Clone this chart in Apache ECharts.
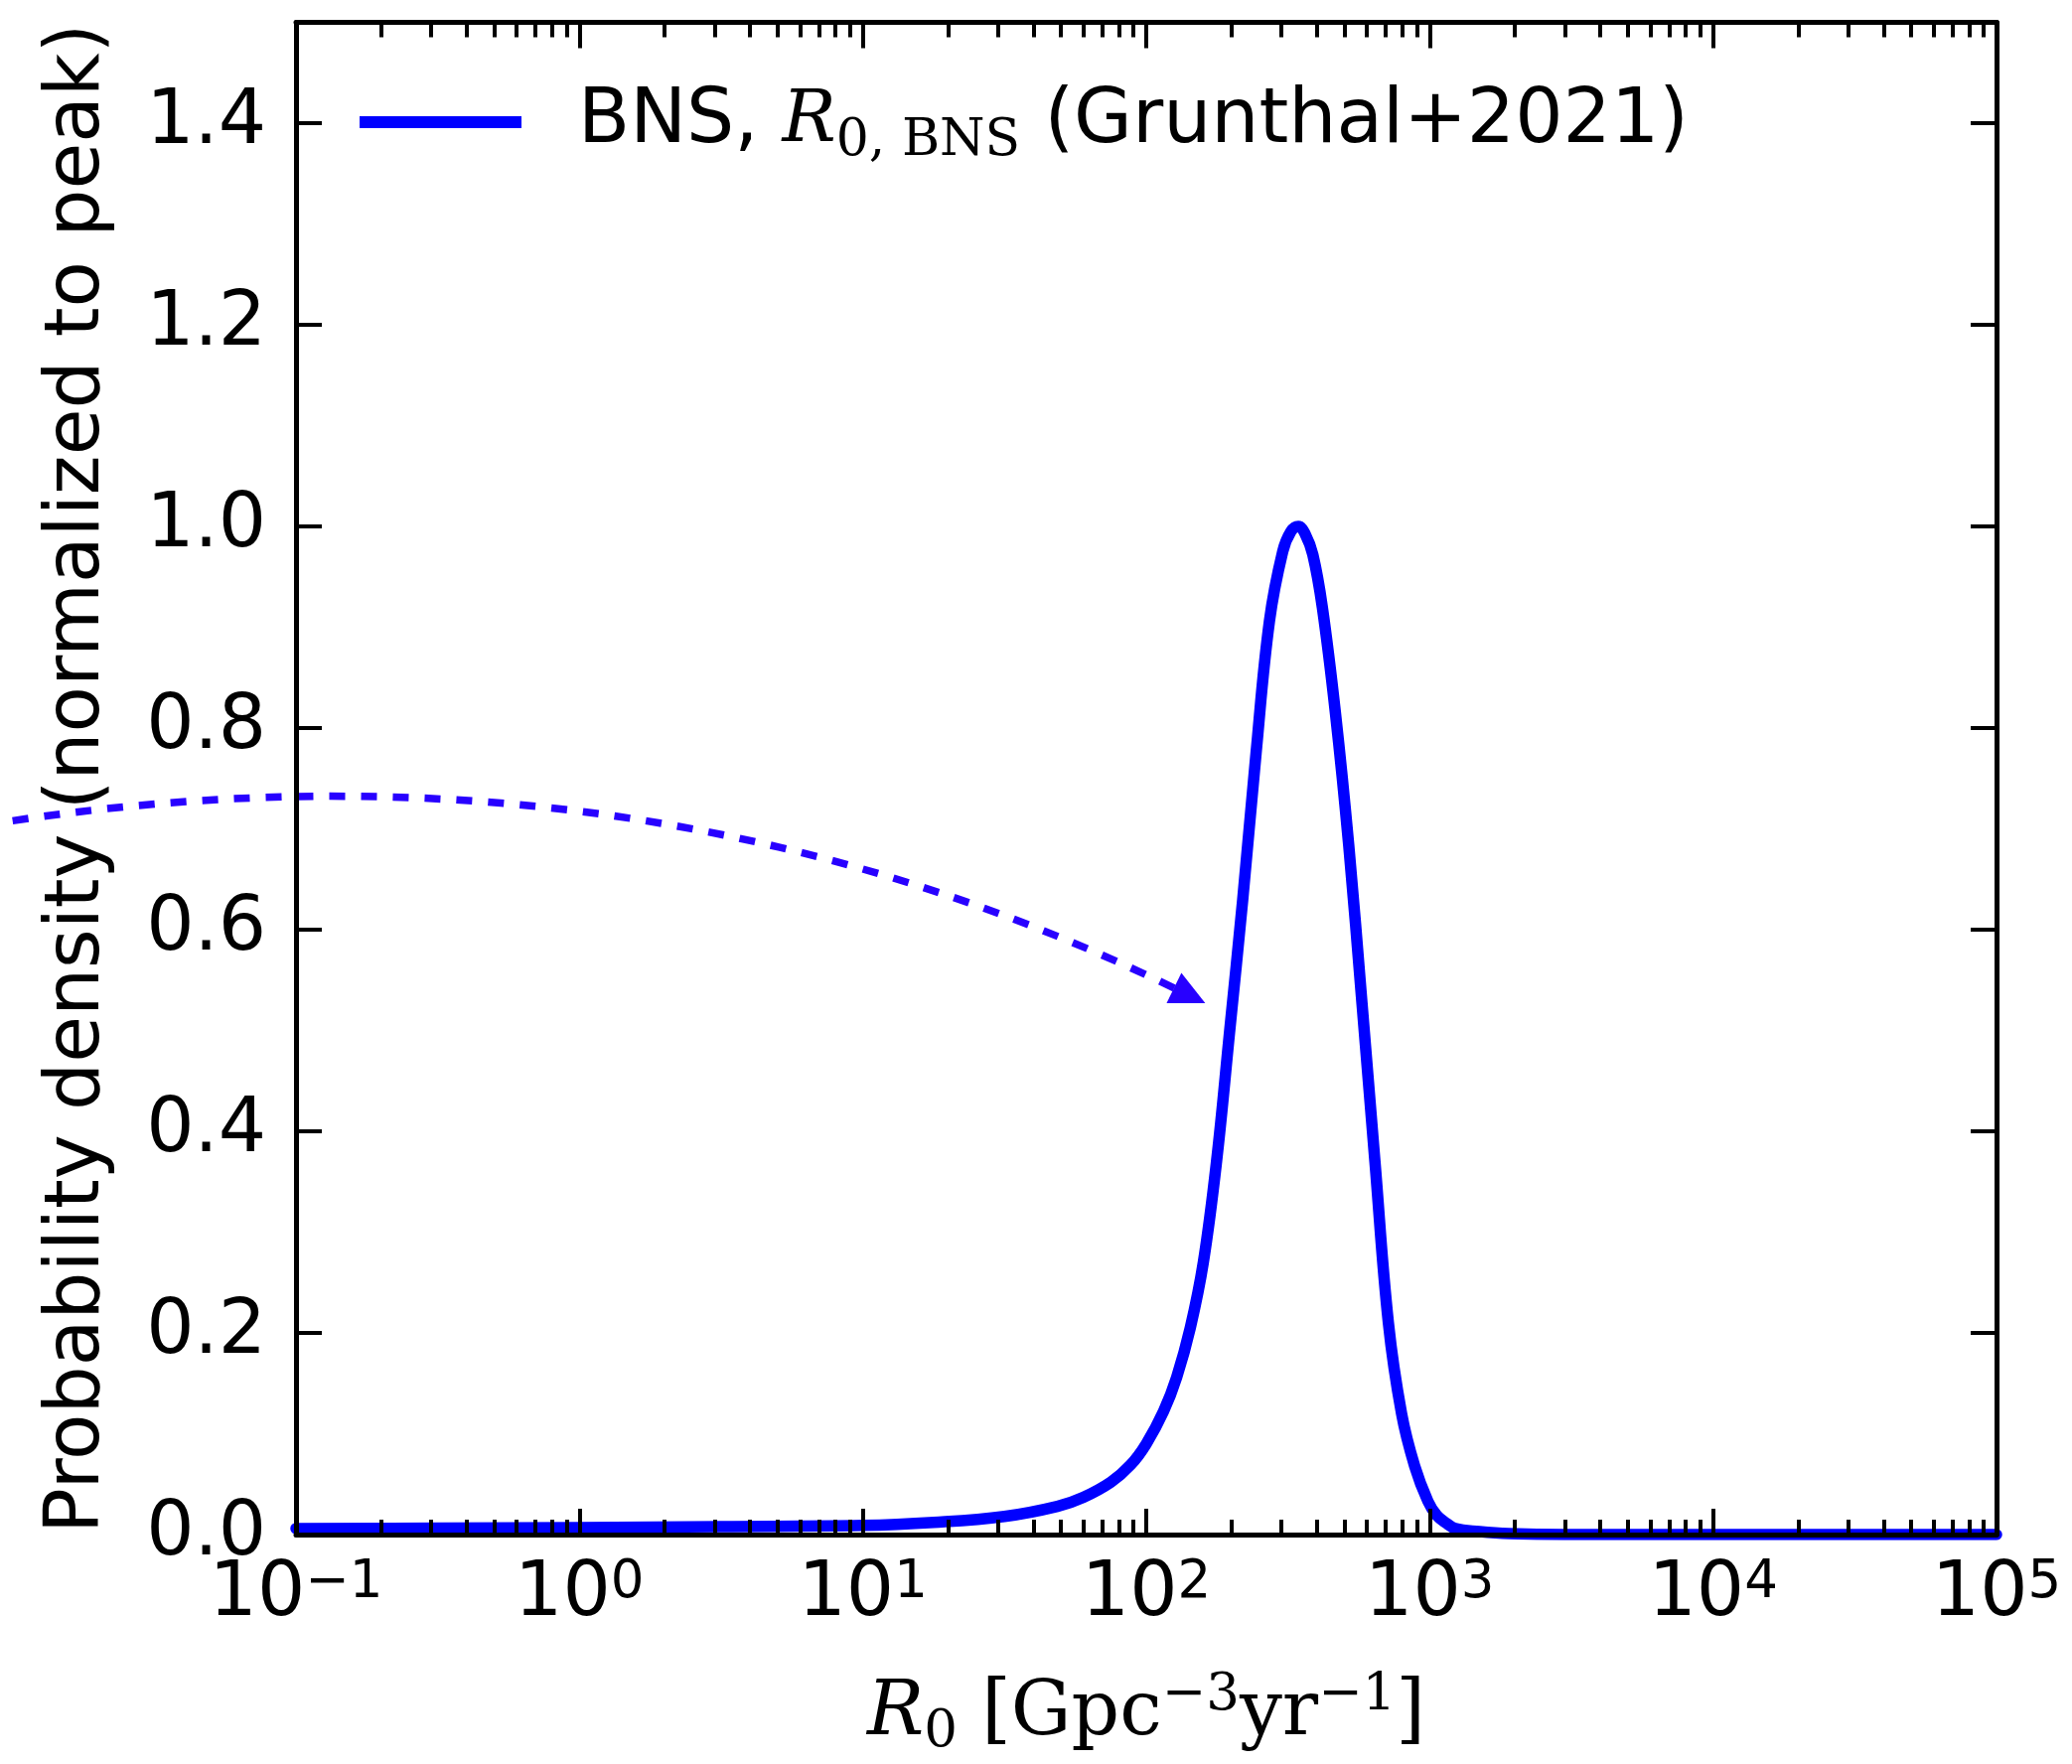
<!DOCTYPE html>
<html>
<head>
<meta charset="utf-8">
<script src="https://cdn.jsdelivr.net/npm/echarts@6/dist/echarts.min.js"></script>
<style>
html, body { margin: 0; padding: 0; background: #ffffff; }
#chart { width: 2086px; height: 1776px; }
</style>
</head>
<body>
<div id="chart"></div>
<script>
// ---- data ----
const rValues = [0.1, 0.316, 1, 3.16, 10, 17.8, 31.6, 48.6, 60, 75, 88, 100, 115, 128, 143, 159, 177, 197, 219, 244, 272, 303, 324, 344, 363, 387, 418, 465, 518, 577, 641, 715, 796, 885, 986, 1060, 1150, 1230, 1500, 1900, 3000, 10000, 100000];
const densityValues = [0.006, 0.0063, 0.007, 0.008, 0.009, 0.012, 0.018, 0.028, 0.037, 0.052, 0.069, 0.09, 0.122, 0.156, 0.205, 0.27, 0.37, 0.50, 0.63, 0.775, 0.906, 0.975, 0.995, 1.0, 0.993, 0.972, 0.92, 0.815, 0.684, 0.527, 0.37, 0.21, 0.12, 0.068, 0.033, 0.019, 0.011, 0.006, 0.003, 0.001, 0, 0, 0];

const seriesName = 'BNS';
const xTickValues = [0.1, 1, 10, 100, 1000, 10000, 100000];
const xTickExponents = ['\u22121', '0', '1', '2', '3', '4', '5'];
const yTickValues = [0, 0.2, 0.4, 0.6, 0.8, 1.0, 1.2, 1.4];

// annotation arrow: from (R, density) to (R, density), curved
const arrowFrom = [0.01, 0.708];
const arrowTo = [161.5, 0.527];
const arrowRad = 0.155;

// ---- styles ----
const SANS = 'DejaVu Sans';
const SERIF = 'DejaVu Serif';
const FS = 76;
const BLUE = '#0000ff';
const ARROW = '#2800ff';

const lineData = rValues.map((r, i) => [r, densityValues[i]]);

function xLabel(value) {
  let idx = 0, best = Infinity;
  xTickValues.forEach((v, i) => {
    const d = Math.abs(Math.log10(v) - Math.log10(value));
    if (d < best) { best = d; idx = i; }
  });
  if (best > 0.01) return '';
  return '{b|10}{s|' + xTickExponents[idx] + '}';
}

const axisLineStyle = { color: '#000', width: 5 };
const majorTick = { show: true, inside: true, length: 26, lineStyle: { color: '#000', width: 4 } };
const minorTick = { show: true, splitNumber: 9, length: 15, lineStyle: { color: '#000', width: 4 } };

const chart = echarts.init(document.getElementById('chart'), null, { renderer: 'canvas' });

const option = {
  animation: false,
  backgroundColor: '#ffffff',
  grid: { left: 298, right: 76, top: 22.5, bottom: 228.5, containLabel: false },
  legend: {
    data: [seriesName],
    left: 362,
    top: 78,
    padding: 0,
    itemWidth: 163,
    itemHeight: 12,
    icon: 'rect',
    selectedMode: false,
    formatter: () => '{p|BNS, }{r|R}{s|0, BNS}{a| (Grunthal+2021)}',
    textStyle: {
      color: '#000',
      fontFamily: SANS,
      fontSize: FS,
      lineHeight: 90,
      rich: {
        p: { fontFamily: SANS, fontSize: FS, lineHeight: 90, color: '#000', padding: [0, 0, 0, 52] },
        a: { fontFamily: SANS, fontSize: FS, lineHeight: 90, color: '#000' },
        r: { fontFamily: SERIF, fontStyle: 'italic', fontSize: 72, lineHeight: 90, color: '#000' },
        s: { fontFamily: SERIF, fontSize: 52, lineHeight: 47, verticalAlign: 'bottom', color: '#000' }
      }
    }
  },
  xAxis: [
    {
      type: 'log', logBase: 10, min: 0.1, max: 100000, position: 'bottom', z: 5,
      axisLine: { show: true, onZero: false, lineStyle: axisLineStyle },
      axisTick: majorTick,
      minorTick: minorTick,
      splitLine: { show: false },
      minorSplitLine: { show: false },
      axisLabel: {
        margin: 23,
        formatter: xLabel,
        color: '#000',
        rich: {
          b: { fontFamily: SANS, fontSize: FS, lineHeight: 76, color: '#000' },
          s: { fontFamily: SANS, fontSize: 53, lineHeight: 32, verticalAlign: 'top', color: '#000' }
        }
      },
      name: '{r|R}{s|0}{t| [Gpc}{p|\u22123}{t|yr}{p|\u22121}{t|]}',
      nameLocation: 'middle',
      nameGap: 136,
      nameTextStyle: {
        color: '#000',
        fontFamily: SERIF,
        fontSize: FS,
        lineHeight: 90,
        rich: {
          r: { fontFamily: SERIF, fontStyle: 'italic', fontSize: FS, lineHeight: 90, color: '#000' },
          t: { fontFamily: SERIF, fontSize: FS, lineHeight: 90, color: '#000' },
          s: { fontFamily: SERIF, fontSize: 53, lineHeight: 52, verticalAlign: 'bottom', color: '#000' },
          p: { fontFamily: SERIF, fontSize: 53, lineHeight: 50, verticalAlign: 'top', color: '#000' }
        }
      }
    },
    {
      type: 'log', logBase: 10, min: 0.1, max: 100000, position: 'top', z: 5,
      axisLine: { show: true, onZero: false, lineStyle: axisLineStyle },
      axisTick: majorTick,
      minorTick: minorTick,
      splitLine: { show: false },
      minorSplitLine: { show: false },
      axisLabel: { show: false }
    }
  ],
  yAxis: [
    {
      type: 'value', min: 0, max: 1.5, interval: 0.2, position: 'left', z: 5,
      axisLine: { show: true, onZero: false, lineStyle: axisLineStyle },
      axisTick: majorTick,
      splitLine: { show: false },
      axisLabel: {
        margin: 30,
        color: '#000',
        fontFamily: SANS,
        fontSize: FS,
        showMaxLabel: false,
        formatter: v => (yTickValues.some(t => Math.abs(t - v) < 1e-6) ? v.toFixed(1) : '')
      },
      name: 'Probability density (normalized to peak)',
      nameLocation: 'middle',
      nameGap: 181,
      nameTextStyle: { color: '#000', fontFamily: SANS, fontSize: FS, lineHeight: 76 }
    },
    {
      type: 'value', min: 0, max: 1.5, interval: 0.2, position: 'right', z: 5,
      axisLine: { show: true, onZero: false, lineStyle: axisLineStyle },
      axisTick: majorTick,
      splitLine: { show: false },
      axisLabel: { show: false }
    }
  ],
  series: [
    {
      name: seriesName,
      type: 'line',
      xAxisIndex: 0,
      yAxisIndex: 0,
      data: lineData,
      symbol: 'none',
      showSymbol: false,
      smooth: 0.4,
      clip: true,
      z: 2,
      color: BLUE,
      lineStyle: { color: BLUE, width: 11.5, cap: 'round', join: 'round' },
      emphasis: { disabled: true }
    },
    {
      name: 'arrow',
      type: 'custom',
      xAxisIndex: 0,
      yAxisIndex: 0,
      clip: false,
      silent: true,
      z: 3,
      data: [[arrowFrom[0], arrowFrom[1], arrowTo[0], arrowTo[1]]],
      encode: { x: [0, 2], y: [1, 3] },
      renderItem: function (params, api) {
        const s = api.coord([api.value(0), api.value(1)]);
        const e = api.coord([api.value(2), api.value(3)]);
        const dx = e[0] - s[0], dy = e[1] - s[1];
        const m = [(s[0] + e[0]) / 2, (s[1] + e[1]) / 2];
        const c = [m[0] + arrowRad * dy, m[1] - arrowRad * dx];
        let tx = e[0] - c[0], ty = e[1] - c[1];
        const tl = Math.hypot(tx, ty); tx /= tl; ty /= tl;
        const hl = 35, hw = 17;
        const base = [e[0] - tx * hl, e[1] - ty * hl];
        const p1 = [base[0] - ty * hw, base[1] + tx * hw];
        const p2 = [base[0] + ty * hw, base[1] - tx * hw];
        return {
          type: 'group',
          children: [
            {
              type: 'bezierCurve',
              shape: { x1: s[0], y1: s[1], x2: base[0] + tx * 4, y2: base[1] + ty * 4, cpx1: c[0], cpy1: c[1] },
              style: { stroke: ARROW, lineWidth: 7.5, lineDash: [16, 16], fill: null }
            },
            {
              type: 'polygon',
              shape: { points: [e, p1, p2] },
              style: { fill: ARROW, stroke: null }
            }
          ]
        };
      }
    }
  ]
};

chart.setOption(option);
</script>
</body>
</html>
